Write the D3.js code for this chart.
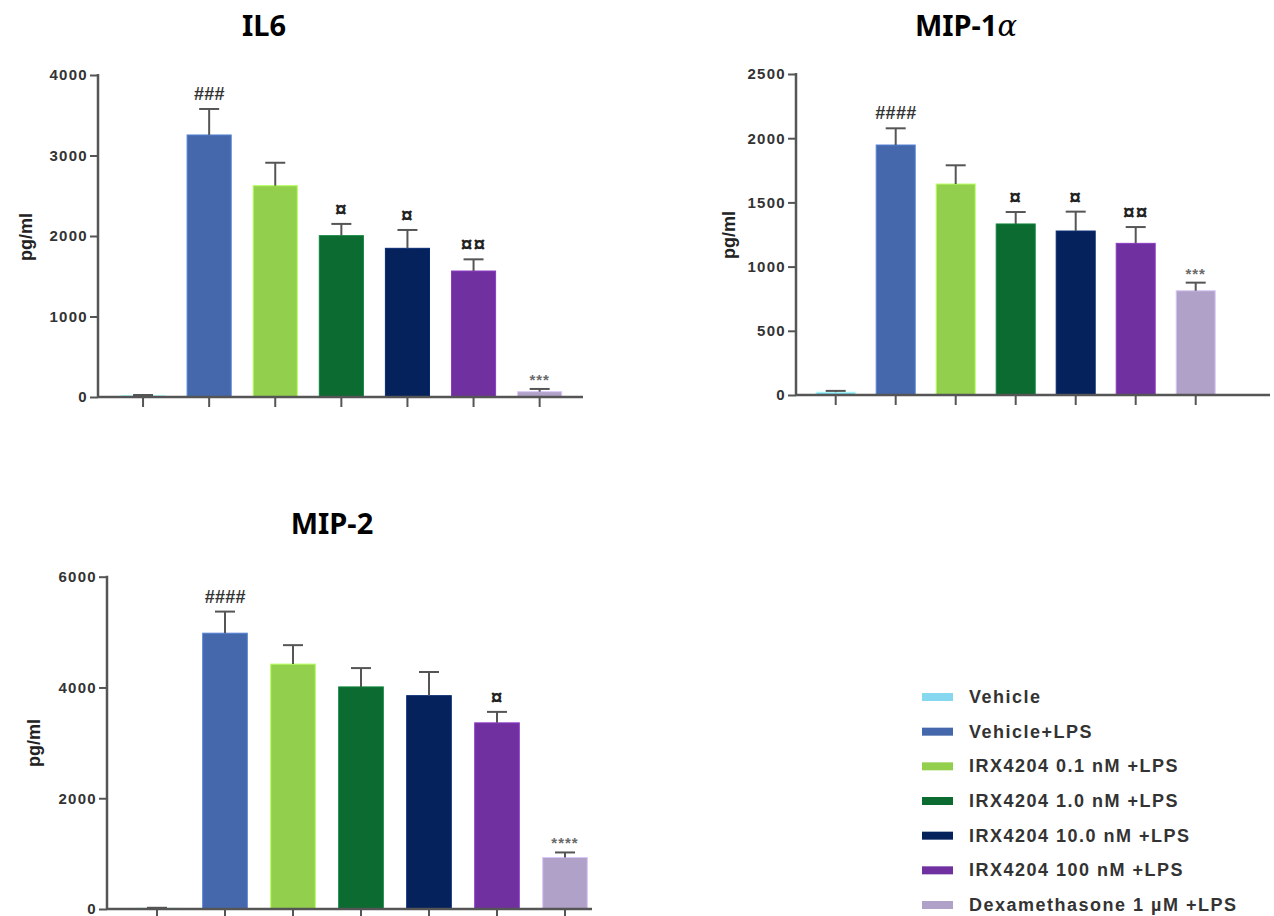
<!DOCTYPE html>
<html lang="en">
<head>
<meta charset="utf-8">
<script src="https://d3js.org/d3.v7.min.js"></script>
<style type="text/css">
body {
	margin: 0;
	background: #fff;
}
.tick text {
	font: bold 15px "Liberation Sans", Arial, sans-serif;
	fill: #333;
	letter-spacing: 1.3px;
}
.title {
	font: bold 29px "Noto Sans", "Open Sans", sans-serif;
	fill: #000;
}
.ylab {
	font: bold 18px "Liberation Sans", Arial, sans-serif;
	fill: #222;
}
.legend text {
	font: bold 18px "Liberation Sans", Arial, sans-serif;
	fill: #333;
	letter-spacing: 1.5px;
}
</style>
</head>
<body>
<script type="text/javascript">

// groups and colours (shared by all panels)
const groups = ['Vehicle', 'Vehicle+LPS', 'IRX4204 0.1 nM +LPS', 'IRX4204 1.0 nM +LPS',
                'IRX4204 10.0 nM +LPS', 'IRX4204 100 nM +LPS', 'Dexamethasone 1 \u00b5M +LPS']
const colors = ['#86d8f0', '#4468ab', '#92cf4c', '#0b6b30', '#05225d', '#7030a0', '#b0a1c8']

// IL6
const il6Mean = [15, 3255, 2625, 2004, 1847, 1565, 66]
const il6Sem  = [10, 323, 285, 146, 228, 145, 34]
const il6Sig  = ['', '###', '', '\u00a4', '\u00a4', '\u00a4\u00a4', '***']
const il6Ticks = [0, 1000, 2000, 3000, 4000]

// MIP-1a
const mip1Mean = [22, 1947, 1643, 1332, 1277, 1181, 812]
const mip1Sem  = [10, 130, 146, 93, 151, 127, 63]
const mip1Sig  = ['', '####', '', '\u00a4', '\u00a4', '\u00a4\u00a4', '***']
const mip1Ticks = [0, 500, 1000, 1500, 2000, 2500]

// MIP-2
const mip2Mean = [12, 4980, 4422, 4010, 3852, 3361, 930]
const mip2Sem  = [10, 390, 342, 340, 427, 198, 91]
const mip2Sig  = ['', '####', '', '', '', '\u00a4', '****']
const mip2Ticks = [0, 2000, 4000, 6000]

const width = 1274
const height = 916
const axisColor = '#555'

const svg = d3.select('body')
	.append('svg')
	.attr('width', width)
	.attr('height', height)

// font size / offset for each kind of mark
function sigStyle(s) {
	if (s.startsWith('*')) return { size: 15, off: 4, fill: '#6a6a6a', ls: 1 }
	if (s.startsWith('#')) return { size: 18, off: 9, fill: '#333', ls: 0.3 }
	return { size: 21, off: 8, fill: '#222', ls: 1 }
}

// one bar panel
function panel(opt) {
	const g = svg.append('g')

	const y = d3.scaleLinear()
		.domain([0, opt.max])
		.range([opt.y0, opt.y1])

	const x = d3.scaleBand()
		.domain(groups)
		.range(opt.xr)
		.paddingInner(opt.pad)
		.paddingOuter(opt.pad / 2)

	// bars
	g.selectAll('rect.bar')
		.data(groups)
		.enter()
		.append('rect')
		.attr('class', 'bar')
		.attr('x', d => x(d))
		.attr('width', x.bandwidth())
		.attr('y', (d, i) => y(opt.mean[i]))
		.attr('height', (d, i) => y(0) - y(opt.mean[i]))
		.style('fill', (d, i) => colors[i])
		.style('stroke', (d, i) => d3.color(colors[i]).brighter(0.6))
		.style('stroke-width', 1)

	// error bars (upper only)
	const err = g.selectAll('g.err')
		.data(groups)
		.enter()
		.append('g')
		.attr('class', 'err')
		.style('stroke', axisColor)
		.style('stroke-width', 2)
	err.append('line')
		.attr('x1', d => x(d) + x.bandwidth() / 2)
		.attr('x2', d => x(d) + x.bandwidth() / 2)
		.attr('y1', (d, i) => y(opt.mean[i]))
		.attr('y2', (d, i) => y(opt.mean[i] + opt.sem[i]))
	err.append('line')
		.attr('x1', d => x(d) + x.bandwidth() / 2 - 10)
		.attr('x2', d => x(d) + x.bandwidth() / 2 + 10)
		.attr('y1', (d, i) => y(opt.mean[i] + opt.sem[i]))
		.attr('y2', (d, i) => y(opt.mean[i] + opt.sem[i]))

	// significance marks
	g.selectAll('text.sig')
		.data(groups)
		.enter()
		.append('text')
		.attr('class', 'sig')
		.attr('x', d => x(d) + x.bandwidth() / 2)
		.attr('y', (d, i) => y(opt.mean[i] + opt.sem[i]) - sigStyle(opt.sig[i]).off)
		.attr('text-anchor', 'middle')
		.style('font-family', '"Liberation Sans", Arial, sans-serif')
		.style('font-weight', 'bold')
		.style('font-style', (d, i) => opt.sig[i].startsWith('#') ? 'italic' : 'normal')
		.style('font-size', (d, i) => sigStyle(opt.sig[i]).size + 'px')
		.style('letter-spacing', (d, i) => sigStyle(opt.sig[i]).ls + 'px')
		.style('fill', (d, i) => sigStyle(opt.sig[i]).fill)
		.text((d, i) => opt.sig[i])

	// y axis
	const yAxis = g.append('g')
		.attr('transform', 'translate(' + opt.xAxis0 + ',0)')
		.call(d3.axisLeft(y).tickValues(opt.ticks).tickSize(8).tickPadding(2).tickFormat(d3.format('d')))
	yAxis.select('.domain').remove()
	yAxis.selectAll('line').style('stroke', axisColor).style('stroke-width', 2)
	g.append('line')
		.attr('x1', opt.xAxis0).attr('x2', opt.xAxis0)
		.attr('y1', opt.y1 - 1).attr('y2', opt.y0)
		.style('stroke', axisColor).style('stroke-width', 2.5)

	// x axis: ticks only, no labels
	const xAxis = g.append('g')
		.attr('transform', 'translate(0,' + opt.y0 + ')')
		.call(d3.axisBottom(x).tickSize(10).tickFormat(''))
	xAxis.select('.domain').remove()
	xAxis.selectAll('line').style('stroke', axisColor).style('stroke-width', 2)
	g.append('line')
		.attr('x1', opt.xAxis0).attr('x2', opt.xAxis1)
		.attr('y1', opt.y0).attr('y2', opt.y0)
		.style('stroke', axisColor).style('stroke-width', 2.5)

	// y label
	g.append('text')
		.attr('class', 'ylab')
		.attr('transform', 'translate(' + opt.labX + ',' + opt.labY + ') rotate(-90)')
		.attr('text-anchor', 'middle')
		.text('pg/ml')

	// title
	const t = g.append('text')
		.attr('class', 'title')
		.attr('x', opt.titleX)
		.attr('y', opt.titleY)
		.attr('text-anchor', 'middle')
	t.append('tspan').text(opt.title)
	if (opt.greek) {
		t.append('tspan')
			.style('font-family', '"DejaVu Serif", serif')
			.style('font-weight', 'normal')
			.style('font-style', 'italic')
			.text(opt.greek)
	}
}

panel({ title: 'IL6', titleX: 264, titleY: 36,
	mean: il6Mean, sem: il6Sem, sig: il6Sig, ticks: il6Ticks, max: 4000,
	y0: 397, y1: 75, xr: [110, 572.7], pad: 0.333, xAxis0: 98, xAxis1: 583,
	labX: 32, labY: 237 })

panel({ title: 'MIP-1', greek: '\u03b1', titleX: 966, titleY: 36,
	mean: mip1Mean, sem: mip1Sem, sig: mip1Sig, ticks: mip1Ticks, max: 2500,
	y0: 395, y1: 74, xr: [805.7, 1225.7], pad: 0.35, xAxis0: 796, xAxis1: 1270,
	labX: 735, labY: 235 })

panel({ title: 'MIP-2', titleX: 332, titleY: 534,
	mean: mip2Mean, sem: mip2Sem, sig: mip2Sig, ticks: mip2Ticks, max: 6000,
	y0: 909, y1: 576.7, xr: [123, 599], pad: 0.344, xAxis0: 107, xAxis1: 592,
	labX: 40, labY: 743 })

// legend
const legend = svg.append('g').attr('class', 'legend')
const rowY = d3.scalePoint().domain(groups).range([697, 905])
const rows = legend.selectAll('g')
	.data(groups)
	.enter()
	.append('g')
	.attr('transform', d => 'translate(922,' + rowY(d) + ')')
rows.append('rect')
	.attr('x', 0).attr('y', -4)
	.attr('width', 31).attr('height', 8)
	.style('fill', (d, i) => colors[i])
rows.append('text')
	.attr('x', 47)
	.attr('y', 6)
	.text(d => d)

</script>
</body>
</html>
